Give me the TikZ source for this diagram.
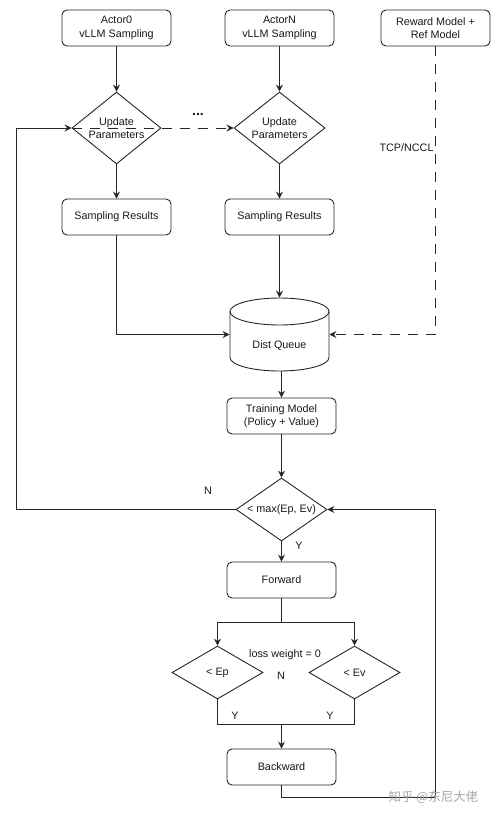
\documentclass[tikz,border=0pt]{standalone}
\usepackage{fontspec}
\setmainfont{Liberation Sans}
\newfontfamily\cjk{Noto Sans CJK SC}
\usetikzlibrary{shapes.geometric,arrows.meta}
\begin{document}
\begin{tikzpicture}[x=1pt,y=-1pt,
  line width=0.9pt, draw=black!85,
  txt/.style={font=\fontsize{10.8}{13.5}\selectfont, text=black!90, align=center},
  box/.style={draw, rounded corners=5pt, minimum width=109pt, minimum height=36pt, inner sep=0pt, txt},
  dia/.style={draw, diamond, inner sep=0pt},
  arr/.style={-{Stealth[length=7pt,width=7pt,inset=2.5pt]}},
  dsh/.style={dash pattern=on 10pt off 8pt},
  lbl/.style={txt, inner sep=0pt}
]
\useasboundingbox (0,0) rectangle (500,814);

% top boxes
\node[box] (a0) at (116.5,28) {Actor0\\vLLM Sampling};
\node[box] (aN) at (279.5,28) {ActorN\\vLLM Sampling};
\node[box] (rw) at (435.5,28) {Reward Model +\\Ref Model};

% update diamonds
\node[dia, minimum width=89pt, minimum height=72pt] (d1) at (116.5,128) {};
\node[dia, minimum width=91pt, minimum height=72pt] (d2) at (279.5,128) {};

% sampling results
\node[box] (s1) at (116.5,217) {Sampling Results};
\node[box] (s2) at (279.5,217) {Sampling Results};

% dist queue (cylinder)
\node[minimum width=99pt, minimum height=73pt, inner sep=0pt] (dq) at (279.5,334.5) {};
\draw (279.5,311.5) ellipse [x radius=49.5pt, y radius=13.5pt];
\draw (230,311.5) -- (230,357.5) arc[start angle=180, end angle=360, x radius=49.5pt, y radius=13.5pt] -- (329,311.5);
\node[lbl] (dqt) at (279.5,346) {Dist Queue};

% training etc.
\node[box] (tm) at (281.5,416) {Training Model\\(Policy + Value)};
\node[dia, minimum width=91pt, minimum height=63pt] (mx) at (281.5,509.5) {};
\node[box] (fw) at (281.5,580) {Forward};
\node[dia, minimum width=91pt, minimum height=53pt] (ep) at (217.5,672.5) {};
\node[dia, minimum width=91pt, minimum height=53pt] (ev) at (354.5,672.5) {};
\node[box] (bw) at (281.5,767) {Backward};

% helper coordinates
\coordinate (loopL) at (16,509.5);
\coordinate (split) at (281.5,622);
\coordinate (join) at (281.5,724);
\coordinate (loopR) at (435.5,797);

% connectors
\draw[arr] (a0) -- (d1);
\draw[arr] (aN) -- (d2);
\draw[arr] (d1) -- (s1);
\draw[arr] (d2) -- (s2);
\draw[arr, dsh] (d1.west) -- (d2.west);
\draw[arr] (s1.south) |- (dq.west);
\draw[arr] (s2.south) -- (dq.north);
\draw[arr, dsh] (rw.south) |- (dq.east);
\draw[arr] (tm.north |- dq.south) -- (tm.north);
\draw[arr] (tm) -- (mx);
\draw[arr] (mx.west) -- (loopL) |- (d1.west);
\draw[arr] (mx) -- (fw);
\draw (fw.south) -- (split);
\draw[arr] (split) -| (ep.north);
\draw[arr] (split) -| (ev.north);
\draw (ep.south) |- (join);
\draw (ev.south) |- (join);
\draw[arr] (join) -- (bw);
\draw[arr] (bw.south) |- (loopR) |- (mx.east);

% diamond texts
\node[lbl] (d1t) at (d1) {Update\\Parameters};
\node[lbl] (d2t) at (d2) {Update\\Parameters};
\node[lbl] (mxt) at (mx) {< max(Ep, Ev)};
\node[lbl] (ept) at (ep) {< Ep};
\node[lbl] (evt) at (ev) {< Ev};

% labels
\node[lbl, font=\fontsize{14}{14}\selectfont\bfseries] (dots) at (198,114) {...};
\node[lbl, anchor=east] (tcp) at (434,148) {TCP/NCCL};
\node[lbl] (nl) at (208,491) {N};
\node[lbl] (yl) at (299,546) {Y};
\node[lbl] (lw) at (285,655) {loss weight = 0};
\node[lbl] (n2) at (281,676) {N};
\node[lbl] (y1) at (235,716) {Y};
\node[lbl] (y2) at (330,716) {Y};

% watermark
\node[inner sep=0pt, text=black!35, font=\cjk\fontsize{12.5}{13}\selectfont] (wm) at (433.5,797) {知乎 @东尼大佬};
\end{tikzpicture}
\end{document}
